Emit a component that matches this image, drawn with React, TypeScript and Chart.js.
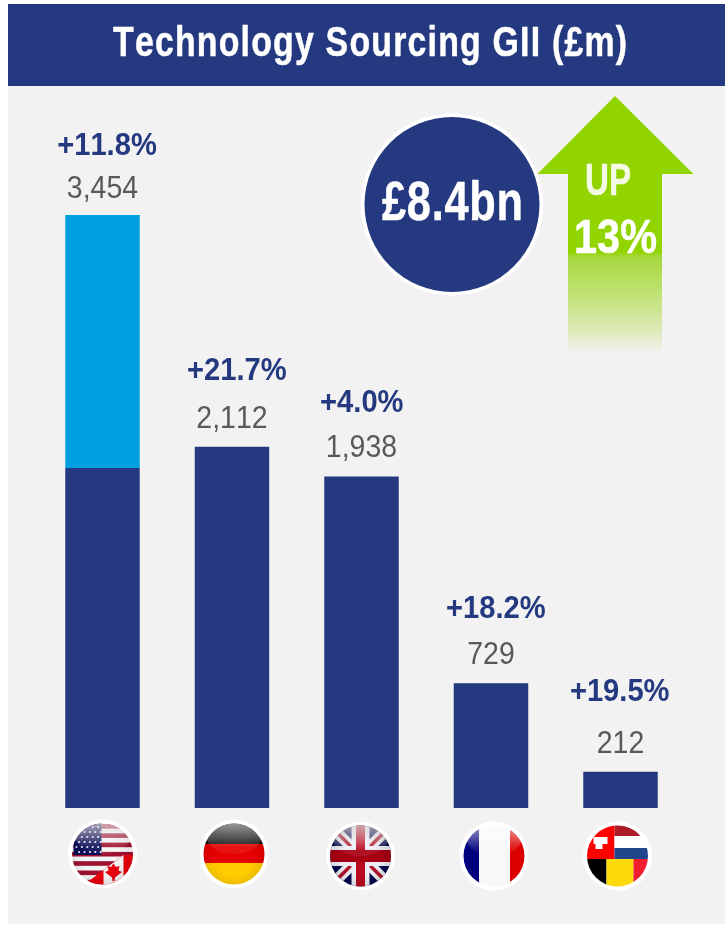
import React, { useEffect, useRef } from "react";
import { Chart, registerables } from "chart.js";

Chart.register(...registerables);

const categories = ["US & Canada", "Germany", "UK", "France", "Switzerland, Netherlands & Belgium"];
const baseValues = [1988, 2112, 1938, 729, 212];
const topValues = [1480, 0, 0, 0, 0];
const totalLabels = ["3,454", "2,112", "1,938", "729", "212"];
const growthLabels = ["+11.8%", "+21.7%", "+4.0%", "+18.2%", "+19.5%"];
const titleText = "Technology Sourcing GII (£m)";
const totalText = "£8.4bn";
const arrowLines = ["UP", "13%"];

const NAVY = "#24397f";
const BLUE = "#009fdf";
const GREEN = "#92d400";
const GREY = "#595959";
const FONT = '"Liberation Sans", Arial, sans-serif';

const valueGap = [17, 18.7, 19.4, 19.3, 18.4];
const growthGap = [60, 66.7, 65, 65.6, 71];
const growthShift = [4.5, 4.8, 0.3, 4.8, -0.8];
const flagShift = [0, 2, -1, 3, -3];
const flagY = [854, 854, 856, 856, 856];
const glossAlpha = [0.7, 0.62, 0.72, 0.6, 0];
const shadeAlpha = [0.08, 0.08, 0.12, 0, 0];

type Ctx = CanvasRenderingContext2D;

function fitText(c: Ctx, text: string, cx: number, base: number, font: string, color: string, width: number, spacing = 0, weight = 0) {
  c.save();
  c.font = font;
  (c as any).fontKerning = "none";
  (c as any).letterSpacing = spacing + "px";
  c.fillStyle = color;
  c.strokeStyle = color;
  c.lineWidth = weight;
  c.lineJoin = "round";
  c.textAlign = "left";
  c.textBaseline = "alphabetic";
  const w = c.measureText(text).width - spacing;
  const s = width / w;
  c.translate(cx - width / 2, base);
  c.scale(s, 1);
  c.fillText(text, 0, 0);
  if (weight > 0) c.strokeText(text, 0, 0);
  c.restore();
}

function scaleText(c: Ctx, text: string, cx: number, base: number, font: string, color: string, s: number) {
  c.save();
  c.font = font;
  (c as any).fontKerning = "none";
  c.fillStyle = color;
  c.textAlign = "center";
  c.textBaseline = "alphabetic";
  c.translate(cx, base);
  c.scale(s, 1);
  c.fillText(text, 0, 0);
  c.restore();
}

function rect(c: Ctx, color: string, x: number, y: number, w: number, h: number) {
  c.fillStyle = color;
  c.fillRect(x, y, w, h);
}

function dot(c: Ctx, x: number, y: number, r: number) {
  c.beginPath();
  c.arc(x, y, r, 0, Math.PI * 2);
  c.fill();
}

function usCanada(c: Ctx) {
  rect(c, "#f4f4f4", -31, -31, 62, 62);
  for (let i = 0; i < 7; i++) {
    rect(c, "#a01030", -31, -30 + i * 9.3, 62, 4.6);
  }
  rect(c, "#0a0a55", -29, -31, 28, 32);
  c.fillStyle = "#e4e8f4";
  for (let r = 0; r < 6; r++) {
    for (let k = 0; k < 5; k++) {
      dot(c, -26 + k * 5.4 + (r % 2 ? 2.6 : 0), -27 + r * 5, 1.1);
    }
  }
  c.save();
  c.beginPath();
  c.moveTo(-19, 31);
  c.lineTo(21, 1);
  c.lineTo(31, 1);
  c.lineTo(31, 31);
  c.closePath();
  c.clip();
  rect(c, "#e6000c", -31, -5, 62, 36);
  rect(c, "#f0f0f0", 1, -5, 20, 36);
  c.restore();
  c.fillStyle = "#e6000c";
  c.beginPath();
  c.moveTo(11, 9.5);
  c.lineTo(13.5, 13);
  c.lineTo(17, 12);
  c.lineTo(16, 16.5);
  c.lineTo(19.5, 18);
  c.lineTo(12.5, 23.5);
  c.lineTo(12, 27);
  c.lineTo(10, 27);
  c.lineTo(9.5, 23.5);
  c.lineTo(2.5, 18);
  c.lineTo(6, 16.5);
  c.lineTo(5, 12);
  c.lineTo(8.5, 13);
  c.closePath();
  c.fill();
}

function germany(c: Ctx) {
  rect(c, "#111111", -31, -31, 62, 21);
  rect(c, "#e60000", -31, -10, 62, 19);
  rect(c, "#ffcc00", -31, 9, 62, 22);
}

function britain(c: Ctx) {
  rect(c, "#07074f", -31, -31, 62, 62);
  c.strokeStyle = "#ececf4";
  c.lineWidth = 11;
  c.beginPath();
  c.moveTo(-31, -31);
  c.lineTo(31, 31);
  c.moveTo(31, -31);
  c.lineTo(-31, 31);
  c.stroke();
  c.strokeStyle = "#b01025";
  c.lineWidth = 3.5;
  c.stroke();
  rect(c, "#ececf4", -9, -31, 18, 62);
  rect(c, "#ececf4", -31, -10, 62, 20);
  rect(c, "#b80a20", -4.5, -31, 9, 62);
  rect(c, "#a80012", -31, -6, 62, 12);
}

function france(c: Ctx) {
  rect(c, "#00007f", -31, -31, 17, 62);
  rect(c, "#f8f8f8", -15, -31, 31, 62);
  rect(c, "#dd0000", 16, -31, 15, 62);
}

function mixed(c: Ctx) {
  rect(c, "#ff0000", -31, -31, 28, 34);
  rect(c, "#ffffff", -22, -19, 7, 12);
  rect(c, "#ffffff", -24, -19, 14, 7);
  rect(c, "#ae1c28", -3, -31, 34, 11);
  rect(c, "#ffffff", -3, -20, 34, 12);
  rect(c, "#21468b", -3, -8, 34, 11);
  rect(c, "#000000", -31, 3, 20, 28);
  rect(c, "#fdda0c", -11, 3, 27, 28);
  rect(c, "#ef1f30", 16, 3, 15, 28);
}

const flagPainters = [usCanada, germany, britain, france, mixed];

function drawFlag(c: Ctx, index: number, x: number, y: number) {
  c.save();
  c.fillStyle = "#ffffff";
  c.beginPath();
  c.arc(x, y, 34.5, 0, Math.PI * 2);
  c.fill();
  c.beginPath();
  c.arc(x, y, 30.5, 0, Math.PI * 2);
  c.clip();
  c.translate(x, y);
  flagPainters[index](c);
  if (glossAlpha[index] > 0) {
    const gloss = c.createLinearGradient(0, -31, 0, -7);
    gloss.addColorStop(0, `rgba(255,255,255,${glossAlpha[index]})`);
    gloss.addColorStop(1, "rgba(255,255,255,0.08)");
    c.fillStyle = gloss;
    c.beginPath();
    c.ellipse(0, -16, 27, 16, 0, 0, Math.PI * 2);
    c.fill();
  }
  if (shadeAlpha[index] > 0) {
    const shade = c.createRadialGradient(0, 4, 18, 0, 0, 31);
    shade.addColorStop(0, "rgba(0,0,0,0)");
    shade.addColorStop(1, `rgba(0,0,0,${shadeAlpha[index]})`);
    c.fillStyle = shade;
    c.fillRect(-31, -31, 62, 62);
  }
  c.restore();
}

function drawArrow(c: Ctx) {
  const span = 353 - 96;
  const at = (py: number) => (py - 96) / span;
  const g = c.createLinearGradient(0, 96, 0, 353);
  g.addColorStop(0, GREEN);
  g.addColorStop(at(252), GREEN);
  g.addColorStop(at(257), "#a6d83c");
  g.addColorStop(at(293), "#bfe272");
  g.addColorStop(at(333), "#dfeabc");
  g.addColorStop(1, "#f2f2f2");
  c.fillStyle = g;
  c.beginPath();
  c.moveTo(615, 96);
  c.lineTo(693.5, 174);
  c.lineTo(662, 174);
  c.lineTo(662, 353);
  c.lineTo(568, 353);
  c.lineTo(568, 174);
  c.lineTo(537.5, 174);
  c.closePath();
  c.fill();
}

const decorations = {
  id: "decorations",
  beforeDatasetsDraw(chart: Chart) {
    const c = chart.ctx;
    c.save();
    rect(c, "#f2f2f2", 8, 4, 717, 920);
    rect(c, NAVY, 8, 4, 717, 82);
    fitText(c, titleText, 370, 56, "bold 42px " + FONT, "#ffffff", 514, 1.5, 0.5);
    c.restore();
  },
  afterDatasetsDraw(chart: Chart) {
    const c = chart.ctx;
    const x = chart.scales.x;
    const y = chart.scales.y;
    c.save();
    drawArrow(c);
    c.fillStyle = "#ffffff";
    c.beginPath();
    c.arc(452, 204.5, 91, 0, Math.PI * 2);
    c.fill();
    c.fillStyle = NAVY;
    c.beginPath();
    c.arc(452, 204.5, 87.5, 0, Math.PI * 2);
    c.fill();
    fitText(c, totalText, 452.5, 220, "bold 56px " + FONT, "#ffffff", 141, 1, 0.5);
    fitText(c, arrowLines[0], 608, 195, "bold 44px " + FONT, "#f4f9e4", 46, 0, 0.5);
    fitText(c, arrowLines[1], 615.5, 253, "bold 49px " + FONT, "#ffffff", 83, 0, 0.5);
    categories.forEach((_, i) => {
      const px = x.getPixelForValue(i);
      const top = y.getPixelForValue(baseValues[i] + topValues[i]);
      scaleText(c, totalLabels[i], px, top - valueGap[i], "32px " + FONT, GREY, 0.89);
      scaleText(c, growthLabels[i], px + growthShift[i], top - growthGap[i], "bold 32px " + FONT, NAVY, 0.91);
      drawFlag(c, i, px + flagShift[i], flagY[i]);
    });
    c.restore();
  },
};

export default function App() {
  const ref = useRef<HTMLCanvasElement>(null);
  useEffect(() => {
    const chart = new Chart(ref.current!, {
      type: "bar",
      data: {
        labels: categories,
        datasets: [
          { label: "Base", data: baseValues, backgroundColor: NAVY },
          { label: "Top", data: topValues, backgroundColor: BLUE },
        ],
      },
      options: {
        responsive: false,
        animation: false,
        layout: { padding: { left: 37.75, right: 39.75, top: 215, bottom: 117 } },
        datasets: { bar: { categoryPercentage: 1, barPercentage: 0.575, borderWidth: 0 } },
        plugins: { legend: { display: false }, title: { display: false }, tooltip: { enabled: false } },
        scales: {
          x: { display: false, stacked: true },
          y: { display: false, stacked: true, min: 0, max: 3468 },
        },
      },
      plugins: [decorations],
    });
    return () => chart.destroy();
  }, []);
  return <canvas ref={ref} width={725} height={925} style={{ position: "absolute", left: 0, top: 0, display: "block" }} />;
}
